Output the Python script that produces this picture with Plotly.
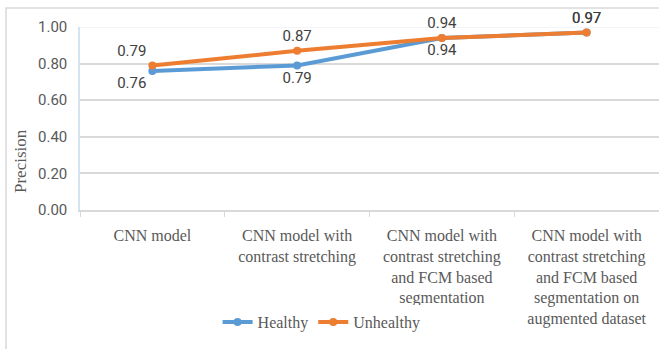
import plotly.graph_objects as go

categories = [
    "CNN model",
    "CNN model with<br>contrast stretching",
    "CNN model with<br>contrast stretching<br>and FCM based<br>segmentation",
    "CNN model with<br>contrast stretching<br>and FCM based<br>segmentation on<br>augmented dataset",
]
healthy = [0.76, 0.79, 0.94, 0.97]
unhealthy = [0.79, 0.87, 0.94, 0.97]
y_ticks = [0.0, 0.2, 0.4, 0.6, 0.8, 1.0]

label_font = dict(family="Roboto, Open Sans, sans-serif", size=15, color="#404040")
serif = "Liberation Serif, Times New Roman, serif"

fig = go.Figure()
fig.add_trace(go.Scatter(
    x=categories, y=healthy, name="Healthy",
    mode="lines+markers+text", cliponaxis=False,
    line=dict(color="#5B9BD5", width=4),
    marker=dict(color="#5B9BD5", size=8),
    text=[f"{v:.2f}" for v in healthy],
    textposition=["bottom left", "bottom center", "bottom center", "top center"],
    textfont=label_font,
))
fig.add_trace(go.Scatter(
    x=categories, y=unhealthy, name="Unhealthy",
    mode="lines+markers+text", cliponaxis=False,
    line=dict(color="#ED7D31", width=4),
    marker=dict(color="#ED7D31", size=8),
    text=[f"{v:.2f}" for v in unhealthy],
    textposition=["top left", "top center", "top center", "top center"],
    textfont=label_font,
))

# outer chart frame
fig.add_shape(type="rect", xref="paper", yref="paper",
              x0=-74 / 579, x1=1.2, y0=-1.0, y1=1 + 19 / 183,
              line=dict(color="#D9D9D9", width=1.5), layer="below")
# faint top gridline
fig.add_shape(type="line", xref="paper", yref="y", x0=0, x1=1, y0=1, y1=1,
              line=dict(color="#EEF1F5", width=1.5), layer="below")

# vertical axis title
fig.add_annotation(text="Precision", xref="paper", yref="paper",
                   x=-60 / 579, y=(210 - 161) / 183, textangle=-90,
                   showarrow=False, xanchor="center", yanchor="middle",
                   font=dict(family=serif, size=17, color="#595959"))

fig.update_layout(
    width=659, height=349,
    margin=dict(l=80, r=0, t=27, b=139, autoexpand=False),
    plot_bgcolor="white", paper_bgcolor="white",
    showlegend=True,
    legend=dict(orientation="h", xref="container", yref="container",
                x=0.488, y=0.077, xanchor="center", yanchor="middle",
                font=dict(family=serif, size=16, color="#595959"),
                itemwidth=30, tracegroupgap=0),
    xaxis=dict(
        type="category", tickson="boundaries", ticks="outside", ticklen=5,
        tickcolor="#D9D9D9", showline=True, linecolor="#D9D9D9", linewidth=1.5,
        showgrid=False, tickfont=dict(family=serif, size=16, color="#595959"),
        ticklabelstandoff=10, range=[-0.5, 3.5], automargin=False,
    ),
    yaxis=dict(
        range=[0, 1], tickvals=y_ticks, tickformat=".2f",
        showgrid=True, gridcolor="#D9D9D9", gridwidth=1.5,
        showline=True, linecolor="#D6E4F2", linewidth=1.5,
        zeroline=False, ticks="", automargin=False,
        tickfont=dict(family="Roboto, Open Sans, sans-serif", size=15, color="#595959"),
        ticklabelstandoff=8,
    ),
)

fig.write_html("out.html")
